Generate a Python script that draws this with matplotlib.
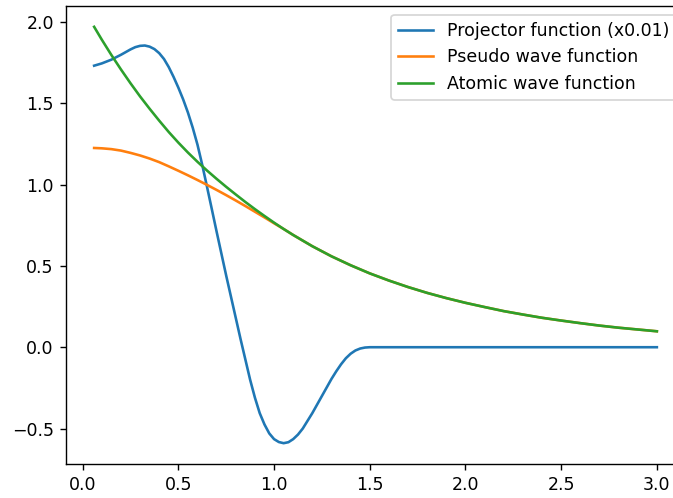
import matplotlib
matplotlib.use("Agg")
import matplotlib.pyplot as plt

# ---- Data ----

r_proj = [0.06, 0.10, 0.15, 0.20, 0.25, 0.275, 0.30, 0.325, 0.35, 0.375,
          0.40, 0.425, 0.45, 0.475, 0.50, 0.525, 0.55, 0.575, 0.60, 0.625,
          0.65, 0.675, 0.70, 0.725, 0.75, 0.775, 0.80, 0.825, 0.85, 0.875,
          0.90, 0.925, 0.95, 0.975, 1.00, 1.025, 1.05, 1.075, 1.10, 1.125,
          1.15, 1.20, 1.25, 1.30, 1.325, 1.35, 1.375, 1.40, 1.425, 1.45,
          1.475, 1.50, 2.00, 2.50, 3.00]
projector = [1.731, 1.745, 1.768, 1.798, 1.831, 1.845, 1.853, 1.855, 1.848, 1.833,
             1.808, 1.772, 1.722, 1.662, 1.596, 1.524, 1.443, 1.350, 1.245, 1.120,
             0.985, 0.848, 0.710, 0.575, 0.440, 0.310, 0.180, 0.050, -0.075, -0.200,
             -0.310, -0.405, -0.475, -0.530, -0.565, -0.583, -0.590, -0.584, -0.565, -0.537,
             -0.500, -0.405, -0.300, -0.195, -0.148, -0.105, -0.068, -0.040, -0.020, -0.008,
             -0.002, 0.0, 0.0, 0.0, 0.0]

r_wave = [0.06, 0.10, 0.15, 0.20, 0.25, 0.30, 0.35, 0.40, 0.45, 0.50,
          0.55, 0.60, 0.65, 0.70, 0.75, 0.80, 0.85, 0.90, 0.95, 1.00,
          1.05, 1.10, 1.20, 1.30, 1.40, 1.50, 1.60, 1.70, 1.80, 1.90,
          2.00, 2.10, 2.20, 2.30, 2.40, 2.50, 2.60, 2.70, 2.80, 2.90,
          3.00]
pseudo_wave = [1.225, 1.223, 1.218, 1.209, 1.195, 1.179, 1.160, 1.138, 1.112, 1.085,
               1.057, 1.028, 0.998, 0.967, 0.935, 0.902, 0.868, 0.833, 0.798, 0.762,
               0.727, 0.690, 0.621, 0.559, 0.504, 0.454, 0.410, 0.370, 0.334, 0.302,
               0.273, 0.247, 0.222, 0.201, 0.181, 0.164, 0.148, 0.133, 0.120, 0.109,
               0.098]
atomic_wave = [1.970, 1.891, 1.797, 1.708, 1.623, 1.542, 1.466, 1.393, 1.323, 1.258,
               1.197, 1.140, 1.086, 1.035, 0.986, 0.939, 0.893, 0.849, 0.807, 0.766,
               0.727, 0.690, 0.621, 0.559, 0.504, 0.454, 0.410, 0.370, 0.334, 0.302,
               0.273, 0.247, 0.222, 0.201, 0.181, 0.164, 0.148, 0.133, 0.120, 0.109,
               0.098]

# ---- Plot ----

W, H = 673, 498
fig = plt.figure(figsize=(W / 125, H / 125), dpi=125)
# axes box in pixels: left 66, right 685 (past the crop), top 6, bottom 464
ax = fig.add_axes([66 / W, (H - 464) / H, 619 / W, 458 / H])

ax.plot(r_proj, projector, label="Projector function (x0.01)")
ax.plot(r_wave, pseudo_wave, label="Pseudo wave function")
ax.plot(r_wave, atomic_wave, label="Atomic wave function")
ax.legend(loc="upper right")

fig.savefig("out.png", dpi=125)
